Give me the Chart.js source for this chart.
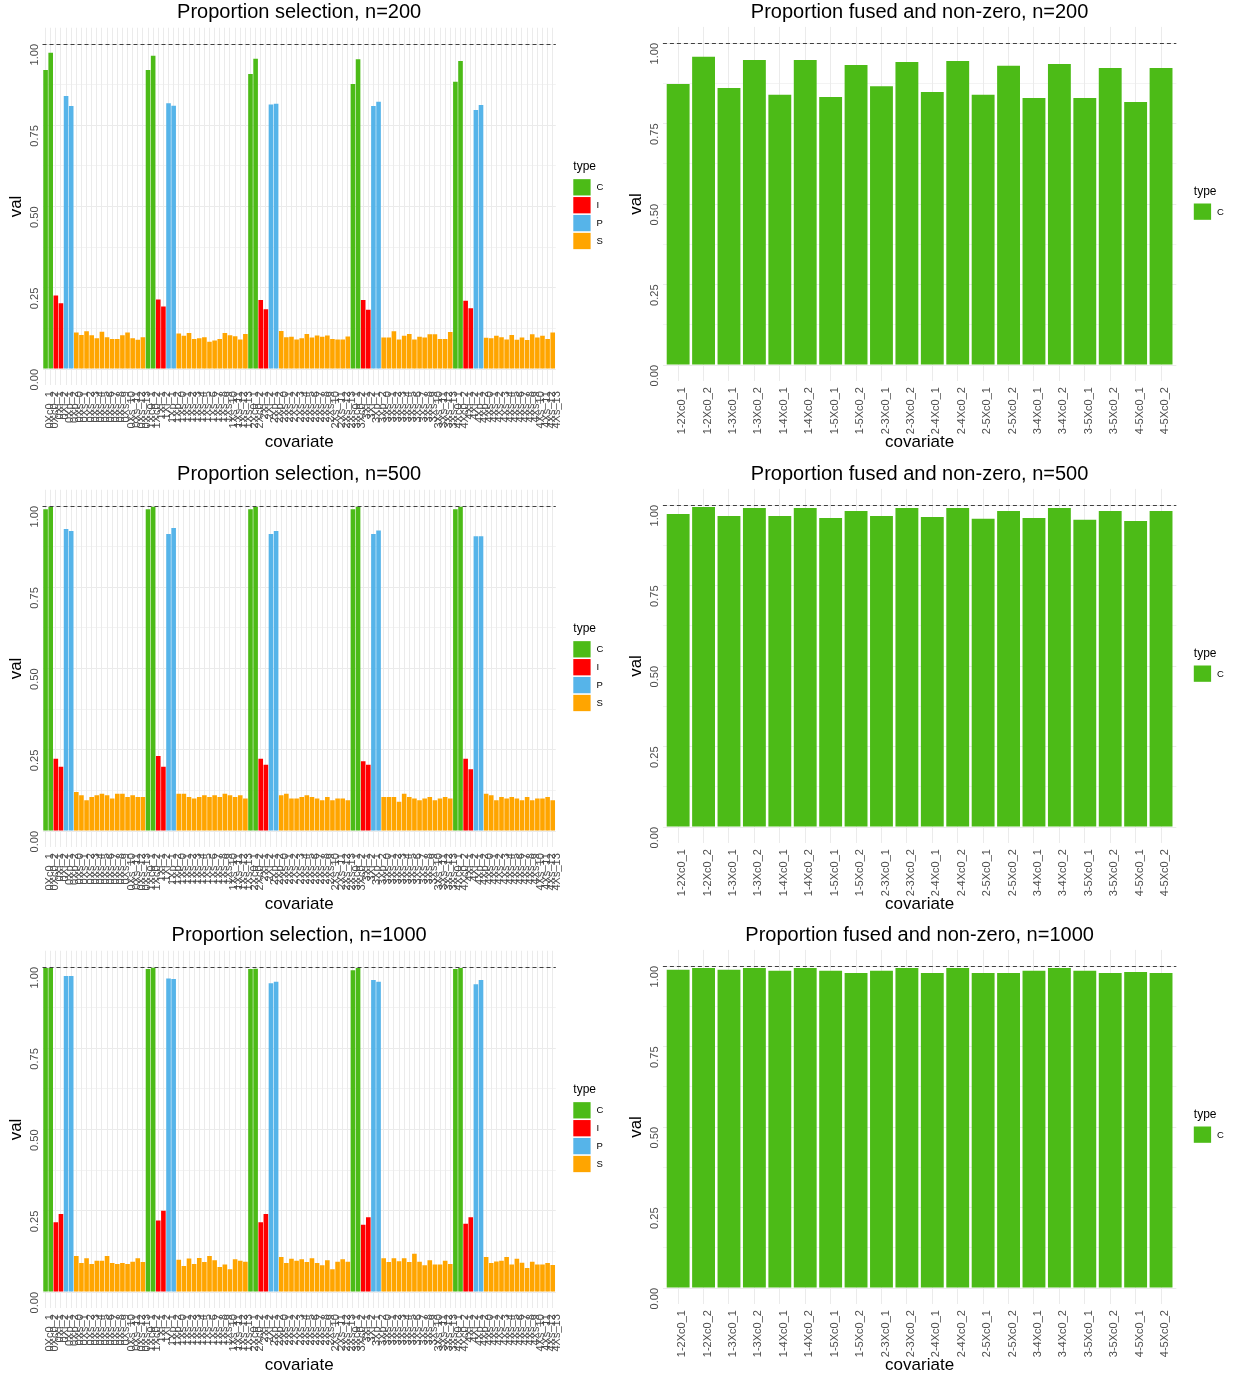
<!DOCTYPE html>
<html>
<head>
<meta charset="utf-8">
<script src="https://cdn.jsdelivr.net/npm/chart.js@4.4.1/dist/chart.umd.min.js"></script>
<style>
  html, body { margin: 0; padding: 0; background: #ffffff; }
  #page { position: relative; width: 1233px; height: 1377px; overflow: hidden; background: #ffffff; }
  .panel { position: absolute; }
  canvas { display: block; }
</style>
</head>
<body>
<div id="page"></div>
<script>
const FONT = '"Liberation Sans", Arial, Helvetica, sans-serif';

// ---- covariate naming for the selection panels ----
const selGroups = ['0', '1', '2', '3', '4'];
const selNamesC = ['Xc0_1', 'Xc0_2'];
const selNamesI = ['Xi_1', 'Xi_2'];
const selNamesP = ['Xp_1', 'Xp_2'];
const selNamesS = ['Xs_0', 'Xs_1', 'Xs_2', 'Xs_3', 'Xs_4', 'Xs_5', 'Xs_6',
                   'Xs_7', 'Xs_8', 'Xs_9', 'Xs_10', 'Xs_11', 'Xs_12', 'Xs_13'];
const typeLabels = ['C', 'I', 'P', 'S'];
const typeColors = ['#4CBB17', '#FF0000', '#56B4E9', '#FFA500'];

// ---- proportion selected, n = 200 (two values per group for C/I/P, fourteen for S) ----
const sel200C = [0.920, 0.973, 0.920, 0.964, 0.908, 0.955, 0.877, 0.953, 0.884, 0.948];
const sel200I = [0.226, 0.202, 0.214, 0.192, 0.212, 0.184, 0.212, 0.182, 0.210, 0.187];
const sel200P = [0.840, 0.809, 0.818, 0.810, 0.814, 0.816, 0.809, 0.822, 0.797, 0.812];
const sel200S = [
  0.112, 0.105, 0.116, 0.104, 0.095, 0.115, 0.098, 0.092, 0.092, 0.104, 0.112, 0.095, 0.090, 0.098,
  0.109, 0.102, 0.111, 0.092, 0.095, 0.098, 0.084, 0.088, 0.092, 0.111, 0.104, 0.101, 0.091, 0.108,
  0.117, 0.098, 0.099, 0.091, 0.095, 0.108, 0.097, 0.103, 0.099, 0.103, 0.092, 0.091, 0.091, 0.100,
  0.097, 0.097, 0.116, 0.091, 0.102, 0.108, 0.091, 0.099, 0.097, 0.107, 0.107, 0.092, 0.092, 0.114,
  0.096, 0.095, 0.102, 0.098, 0.091, 0.105, 0.090, 0.097, 0.089, 0.107, 0.097, 0.102, 0.092, 0.112
];

// ---- proportion selected, n = 500 ----
const sel500C = [0.990, 0.998, 0.990, 0.998, 0.990, 0.998, 0.990, 0.998, 0.990, 0.998];
const sel500I = [0.222, 0.198, 0.231, 0.198, 0.222, 0.204, 0.215, 0.204, 0.222, 0.190];
const sel500P = [0.929, 0.923, 0.914, 0.932, 0.914, 0.923, 0.914, 0.925, 0.907, 0.907];
const sel500S = [
  0.120, 0.110, 0.095, 0.105, 0.110, 0.115, 0.110, 0.100, 0.115, 0.115, 0.105, 0.110, 0.105, 0.105,
  0.115, 0.115, 0.105, 0.100, 0.105, 0.110, 0.105, 0.110, 0.105, 0.115, 0.110, 0.105, 0.110, 0.100,
  0.110, 0.115, 0.100, 0.100, 0.105, 0.110, 0.105, 0.100, 0.095, 0.105, 0.095, 0.100, 0.100, 0.095,
  0.105, 0.105, 0.105, 0.090, 0.115, 0.105, 0.100, 0.095, 0.100, 0.105, 0.095, 0.100, 0.105, 0.100,
  0.115, 0.110, 0.095, 0.105, 0.100, 0.105, 0.100, 0.095, 0.105, 0.095, 0.100, 0.100, 0.105, 0.095
];

// ---- proportion selected, n = 1000 ----
const sel1000C = [0.997, 0.997, 0.994, 0.998, 0.994, 0.995, 0.990, 0.997, 0.994, 0.997];
const sel1000I = [0.215, 0.240, 0.220, 0.250, 0.215, 0.240, 0.207, 0.230, 0.210, 0.230];
const sel1000P = [0.972, 0.972, 0.965, 0.963, 0.950, 0.955, 0.960, 0.955, 0.947, 0.960];
const sel1000S = [
  0.111, 0.089, 0.104, 0.086, 0.096, 0.096, 0.111, 0.089, 0.086, 0.089, 0.086, 0.093, 0.104, 0.092,
  0.099, 0.080, 0.103, 0.086, 0.105, 0.092, 0.111, 0.098, 0.077, 0.085, 0.070, 0.101, 0.096, 0.093,
  0.108, 0.089, 0.102, 0.096, 0.101, 0.092, 0.104, 0.089, 0.082, 0.098, 0.070, 0.093, 0.101, 0.093,
  0.104, 0.092, 0.104, 0.095, 0.104, 0.092, 0.118, 0.093, 0.082, 0.098, 0.085, 0.085, 0.096, 0.086,
  0.108, 0.089, 0.094, 0.096, 0.108, 0.085, 0.102, 0.090, 0.074, 0.093, 0.085, 0.085, 0.089, 0.083
];

// ---- fused and non-zero pairs ----
const fusedLabels = [
  '1-2Xc0_1', '1-2Xc0_2', '1-3Xc0_1', '1-3Xc0_2', '1-4Xc0_1', '1-4Xc0_2', '1-5Xc0_1', '1-5Xc0_2',
  '2-3Xc0_1', '2-3Xc0_2', '2-4Xc0_1', '2-4Xc0_2', '2-5Xc0_1', '2-5Xc0_2',
  '3-4Xc0_1', '3-4Xc0_2', '3-5Xc0_1', '3-5Xc0_2', '4-5Xc0_1', '4-5Xc0_2'
];
const fused200 = [0.873, 0.957, 0.860, 0.947, 0.839, 0.947, 0.832, 0.932, 0.866, 0.941,
                  0.848, 0.944, 0.839, 0.929, 0.829, 0.935, 0.829, 0.922, 0.817, 0.922];
const fused500 = [0.972, 0.994, 0.966, 0.991, 0.966, 0.991, 0.960, 0.981, 0.966, 0.991,
                  0.963, 0.991, 0.957, 0.981, 0.960, 0.991, 0.954, 0.981, 0.950, 0.981];
const fused1000 = [0.988, 0.994, 0.988, 0.994, 0.985, 0.994, 0.985, 0.978, 0.985, 0.994,
                   0.978, 0.994, 0.978, 0.978, 0.985, 0.994, 0.985, 0.978, 0.981, 0.978];

// ---- value axis ----
const yTickValues = [0, 0.25, 0.5, 0.75, 1];
const yMinorValues = [0.125, 0.375, 0.625, 0.875];
const refLevel = 1;

// Assemble the 100 covariate slots of a selection panel
function buildSelection(C, I, P, S) {
  const labels = [];
  const pts = [[], [], [], []];
  const parts = [[selNamesC, C], [selNamesI, I], [selNamesP, P], [selNamesS, S]];
  selGroups.forEach((g, gi) => {
    parts.forEach(([names, vals], ti) => {
      names.forEach((nm, j) => {
        labels.push(g + nm);
        pts[ti].push({ x: labels.length, y: vals[gi * names.length + j] });
      });
    });
  });
  const datasets = typeLabels.map((t, ti) => ({
    label: t, data: pts[ti], backgroundColor: typeColors[ti]
  }));
  return { labels, datasets, legend: typeLabels.map((t, ti) => ({ label: t, color: typeColors[ti] })) };
}

function buildFused(vals) {
  return {
    labels: fusedLabels,
    datasets: [{ label: 'C', data: vals.map((v, i) => ({ x: i + 1, y: v })), backgroundColor: typeColors[0] }],
    legend: [{ label: 'C', color: typeColors[0] }]
  };
}

// Title, axis titles, rotated value labels, reference line and legend
function makeDecor(title, legendItems) {
  return {
    id: 'decor',
    afterDatasetsDraw(chart) {
      const { ctx, chartArea: a } = chart;
      const yy = Math.round(chart.scales.y.getPixelForValue(refLevel)) + 0.5;
      ctx.save();
      ctx.setLineDash([4, 3]);
      ctx.strokeStyle = '#404040';
      ctx.lineWidth = 1.1;
      ctx.beginPath();
      ctx.moveTo(a.left, yy);
      ctx.lineTo(a.right, yy);
      ctx.stroke();
      ctx.restore();
    },
    afterDraw(chart) {
      const { ctx, chartArea: a } = chart;
      const ys = chart.scales.y;
      const cx = (a.left + a.right) / 2;
      const cy = (a.top + a.bottom) / 2;
      ctx.save();
      // title
      ctx.fillStyle = '#000000';
      ctx.font = `20px ${FONT}`;
      ctx.textAlign = 'center';
      ctx.textBaseline = 'alphabetic';
      ctx.fillText(title, cx, 17.5);
      // x axis title
      ctx.font = `17px ${FONT}`;
      ctx.fillText('covariate', cx, 447);
      // y axis title
      ctx.save();
      ctx.translate(a.left - 21.5, cy);
      ctx.rotate(-Math.PI / 2);
      ctx.fillText('val', 0, 0);
      ctx.restore();
      // value labels, rotated
      ctx.fillStyle = '#4D4D4D';
      ctx.font = `11px ${FONT}`;
      yTickValues.forEach(v => {
        ctx.save();
        ctx.translate(a.left - 4.5, ys.getPixelForValue(v));
        ctx.rotate(-Math.PI / 2);
        ctx.textAlign = 'right';
        ctx.textBaseline = 'alphabetic';
        ctx.fillText(v.toFixed(2), 0, 0);
        ctx.restore();
      });
      // legend
      const lx = a.right + 17.5;
      const pitch = 17.9, bw = 17.3, bh = 16.3, titleGap = 15.3;
      const blockH = titleGap + (legendItems.length - 1) * pitch + bh;
      const box0 = cy - blockH / 2 + titleGap;
      ctx.fillStyle = '#000000';
      ctx.font = `12px ${FONT}`;
      ctx.textAlign = 'left';
      ctx.textBaseline = 'alphabetic';
      ctx.fillText('type', lx, box0 - 8.7);
      legendItems.forEach((it, i) => {
        const by = box0 + i * pitch;
        ctx.fillStyle = it.color;
        ctx.fillRect(lx, by, bw, bh);
        ctx.fillStyle = '#000000';
        ctx.font = `9.5px ${FONT}`;
        ctx.textBaseline = 'middle';
        ctx.fillText(it.label, lx + bw + 6, by + bh / 2 + 0.5);
      });
      ctx.restore();
    }
  };
}

function makeChart(geom, title, built) {
  const host = document.createElement('div');
  host.className = 'panel';
  host.style.left = geom.x + 'px';
  host.style.top = geom.y + 'px';
  host.style.width = geom.w + 'px';
  host.style.height = geom.h + 'px';
  const canvas = document.createElement('canvas');
  canvas.width = geom.w;
  canvas.height = geom.h;
  canvas.style.width = geom.w + 'px';
  canvas.style.height = geom.h + 'px';
  host.appendChild(canvas);
  document.getElementById('page').appendChild(host);

  const labels = built.labels;
  const n = labels.length;
  new Chart(canvas, {
    type: 'bar',
    data: { datasets: built.datasets },
    options: {
      responsive: false,
      maintainAspectRatio: false,
      animation: false,
      devicePixelRatio: 1,
      layout: { padding: { left: 0, top: geom.top, right: geom.right, bottom: 0 } },
      datasets: { bar: { grouped: false, barPercentage: 0.9, categoryPercentage: 1, borderWidth: 0 } },
      plugins: { legend: { display: false }, title: { display: false }, tooltip: { enabled: false } },
      scales: {
        x: {
          type: 'linear',
          min: 0.4,
          max: n + 0.6,
          offset: false,
          afterBuildTicks: s => { s.ticks = labels.map((_, i) => ({ value: i + 1 })); },
          afterFit: s => { s.height = geom.xh; },
          grid: { color: '#EBEBEB', lineWidth: 1, drawTicks: false, offset: false },
          border: { display: false },
          ticks: {
            autoSkip: false, minRotation: 90, maxRotation: 90, padding: 6, labelOffset: 4,
            color: '#4D4D4D', font: { family: FONT, size: 11 },
            callback: v => labels[Math.round(v) - 1]
          }
        },
        y: {
          type: 'linear',
          min: -0.05,
          max: 1.05,
          afterBuildTicks: s => {
            s.ticks = yTickValues.concat(yMinorValues).sort((p, q) => p - q).map(v => ({ value: v }));
          },
          afterFit: s => { s.width = geom.left; },
          grid: {
            color: '#EBEBEB',
            drawTicks: false,
            lineWidth: c => (yTickValues.includes(c.tick ? c.tick.value : -1) ? 1 : 0.6)
          },
          border: { display: false },
          ticks: { display: false }
        }
      }
    },
    plugins: [makeDecor(title, built.legend)]
  });
}

const rowTops = [0, 462, 923];
const leftGeom = { x: 0, w: 616, h: 454, left: 42.5, right: 60.2, top: 27.75, xh: 68.75 };
const rightGeom = { x: 616, w: 617, h: 454, left: 46.9, right: 56.7, top: 26.9, xh: 72.9 };

const selSets = [
  ['Proportion selection, n=200', sel200C, sel200I, sel200P, sel200S],
  ['Proportion selection, n=500', sel500C, sel500I, sel500P, sel500S],
  ['Proportion selection, n=1000', sel1000C, sel1000I, sel1000P, sel1000S]
];
const fusedSets = [
  ['Proportion fused and non-zero, n=200', fused200],
  ['Proportion fused and non-zero, n=500', fused500],
  ['Proportion fused and non-zero, n=1000', fused1000]
];

rowTops.forEach((top, r) => {
  const [t1, C, I, P, S] = selSets[r];
  makeChart(Object.assign({}, leftGeom, { y: top }), t1, buildSelection(C, I, P, S));
  const [t2, F] = fusedSets[r];
  makeChart(Object.assign({}, rightGeom, { y: top }), t2, buildFused(F));
});
</script>
</body>
</html>
